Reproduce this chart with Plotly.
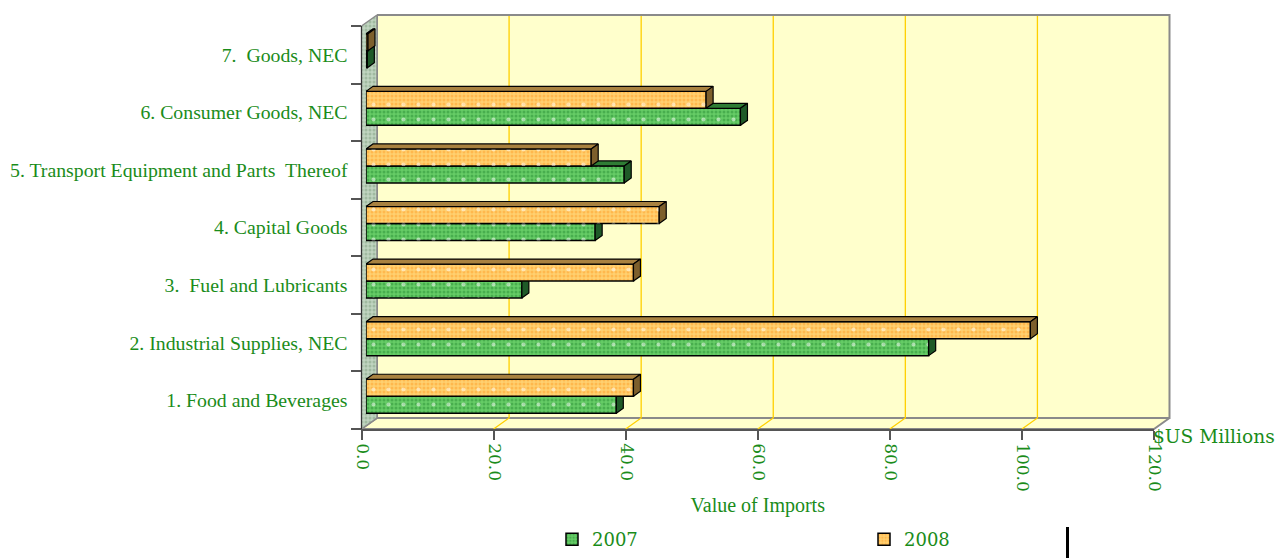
import plotly.graph_objects as go

categories = ["1. Food and Beverages", "2. Industrial Supplies, NEC", "3.  Fuel and Lubricants",
              "4. Capital Goods", "5. Transport Equipment and Parts  Thereof",
              "6. Consumer Goods, NEC", "7.  Goods, NEC"]
v2007 = [37.9, 85.2, 23.6, 34.7, 39.1, 56.7, 0.2]
v2008 = [40.5, 100.6, 40.5, 44.4, 34.1, 51.5, 0.3]
ticks = [0, 20, 40, 60, 80, 100, 120]

W, H = 1278, 558
X0, X1, YB, YT = 361.5, 1154.0, 429.0, 26.0      # front plane of the chart box
DX, DY = 15.5, 11.0                              # box depth
SHIFT_X, SHIFT_Y = 4.5, 4.0                      # bars sit inside the depth
BAR_DX, BAR_DY = 7.0, 5.0                        # bar depth
BAR_W = 0.295
GREEN = "#1a8c1a"
SERIF = "Liberation Serif"
WIDE = "DejaVu Serif"

fig = go.Figure()
hx = lambda f: [f[0] / W, f[1] / W]
hy = lambda b, t: [(H - b) / H, (H - t) / H]
off = dict(visible=False, fixedrange=True, automargin=False)

def furn(xs, ys, **kw):
    fig.add_trace(go.Scatter(x=xs, y=ys, xaxis="x", yaxis="y", hoverinfo="skip", showlegend=False, **kw))

# back wall, floor, side wall
bl, br = X0 + DX, X1 + DX
bt, bb = YT - DY, YB - DY
furn([bl, br, br, bl, bl], [bt, bt, bb, bb, bt], mode="lines", fill="toself", fillcolor="#FFFFCC",
     line=dict(color="#8a8a8a", width=2))
furn([X0, bl, br, X1, X0], [YB, bb, bb, YB, YB], mode="lines", fill="toself", fillcolor="#FFFFCC",
     line=dict(color="#8a8a8a", width=2))
furn([X0, bl, bl, X0, X0], [YT, bt, bb, YB, YT], mode="lines", fill="toself",
     fillpattern=dict(shape=".", size=4, solidity=0.45, fgcolor="#7f9f7f", bgcolor="#c0d4c0"),
     line=dict(color="#8a8a8a", width=1.5))
# gridlines on the wall and floor
scale = (X1 - X0) / (ticks[-1] - ticks[0])
gx, gy = [], []
for t in ticks[1:-1]:
    gx += [bl + t * scale, bl + t * scale, X0 + t * scale, None]
    gy += [bt + 1, bb, YB, None]
furn(gx, gy, mode="lines", line=dict(color="#FFD000", width=1.3))

# labelled axes
fig.add_trace(go.Bar(x=[0] * 7, y=categories, orientation="h", xaxis="x2", yaxis="y2",
                     marker=dict(opacity=0), hoverinfo="skip", showlegend=False))

def faces(vals, pos, color_top, color_side):
    ux = BAR_DX / ((X1 - X0) / (ticks[-1] - ticks[0]))
    uy = BAR_DY / ((YB - YT) / 7)
    tx, ty, sx, sy = [], [], [], []
    for v, p in zip(vals, pos):
        top = p + BAR_W / 2
        bot = p - BAR_W / 2
        tx += [0, ux, v + ux, v, 0, None]
        ty += [top, top + uy, top + uy, top, top, None]
        sx += [v, v + ux, v + ux, v, v, None]
        sy += [top, top + uy, bot + uy, bot, top, None]
    return [(tx, ty, color_top), (sx, sy, color_side)]

series = [
    ("2007", v2007, -BAR_W / 2, "#66cc66", "#2a8f35", "#2f7d35", "#1f5a28", "x3", "y3"),
    ("2008", v2008, BAR_W / 2, "#ffd070", "#ff9f2a", "#a98240", "#7d5f2c", "x4", "y4"),
]
for name, vals, off_y, base, dots, top, side, xa, ya in series:
    pos = [i + off_y for i in range(len(vals))]
    fig.add_trace(go.Bar(x=vals, y=pos, orientation="h", width=BAR_W, name=name, xaxis=xa, yaxis=ya,
                         marker=dict(color=base, line=dict(color="black", width=1.5),
                                     pattern=dict(shape=".", size=4, solidity=0.45, fgcolor=dots, bgcolor=base)),
                         hoverinfo="skip"))
    fig.add_trace(go.Bar(x=vals, y=pos, orientation="h", width=BAR_W, xaxis=xa, yaxis=ya, showlegend=False,
                         marker=dict(color="rgba(0,0,0,0)", line=dict(width=0),
                                     pattern=dict(shape=".", size=15, solidity=0.06, fgcolor="white",
                                                  bgcolor="rgba(0,0,0,0)")),
                         hoverinfo="skip"))
    for fx, fy, col in faces(vals, pos, top, side):
        fig.add_trace(go.Scatter(x=fx, y=fy, mode="lines", fill="toself", fillcolor=col, xaxis=xa, yaxis=ya,
                                 line=dict(color="black", width=1.2), hoverinfo="skip", showlegend=False))

bar_x = hx((X0 + SHIFT_X, X1 + SHIFT_X))
bar_y = hy(YB - SHIFT_Y, YT - SHIFT_Y)
fig.update_layout(
    width=W, height=H, autosize=False, margin=dict(l=0, r=0, t=0, b=0),
    paper_bgcolor="white", plot_bgcolor="rgba(0,0,0,0)", barmode="overlay", showlegend=True,
    xaxis=dict(domain=[0, 1], range=[0, W], anchor="y", **off),
    yaxis=dict(domain=[0, 1], range=[H, 0], anchor="x", **off),
    xaxis2=dict(domain=hx((X0, X1)), range=[ticks[0], ticks[-1]], anchor="y2", tickvals=ticks,
                tickformat=".1f", tickangle=90, ticks="outside", ticklen=9, tickcolor="#555555", tickwidth=1.5,
                ticklabelshift=1,
                showgrid=False, zeroline=False, showline=True, linecolor="#555555", linewidth=1.5,
                tickfont=dict(family=WIDE, size=17, color=GREEN),
                title=dict(text="Value of Imports", standoff=7, font=dict(family=SERIF, size=20, color=GREEN)),
                fixedrange=True, automargin=False),
    yaxis2=dict(domain=hy(YB, YT), range=[-0.5, 6.5], anchor="x2", type="category", categoryorder="array",
                categoryarray=categories, tickson="boundaries", ticks="outside", ticklen=10,
                ticklabelstandoff=9,
                tickcolor="#555555", tickwidth=1.5, showgrid=False, zeroline=False, showline=True,
                linecolor="#333333", linewidth=1, tickfont=dict(family=SERIF, size=19.8, color=GREEN),
                fixedrange=True, automargin=False),
    xaxis3=dict(domain=bar_x, range=[ticks[0], ticks[-1]], anchor="y3", **off),
    yaxis3=dict(domain=bar_y, range=[-0.5, 6.5], anchor="x3", **off),
    xaxis4=dict(domain=bar_x, range=[ticks[0], ticks[-1]], anchor="y4", **off),
    yaxis4=dict(domain=bar_y, range=[-0.5, 6.5], anchor="x4", **off),
    legend=dict(orientation="h", x=552 / W, xanchor="left", y=0, yanchor="bottom",
                entrywidth=267, entrywidthmode="pixels", bgcolor="rgba(0,0,0,0)", borderwidth=0,
                font=dict(family=WIDE, size=18, color=GREEN), itemclick=False, itemdoubleclick=False),
    annotations=[dict(text="$US Millions", xref="paper", yref="paper", x=1151 / W, y=(H - 436) / H,
                      xanchor="left", yanchor="middle", showarrow=False,
                      font=dict(family=WIDE, size=18.6, color=GREEN))],
    shapes=[dict(type="line", xref="paper", yref="paper", x0=1067.5 / W, x1=1067.5 / W,
                 y0=0, y1=(H - 527) / H, line=dict(color="black", width=3))],
)
fig.write_html("out.html", config={"displayModeBar": False},
               post_script="document.body.style.margin='0';")
